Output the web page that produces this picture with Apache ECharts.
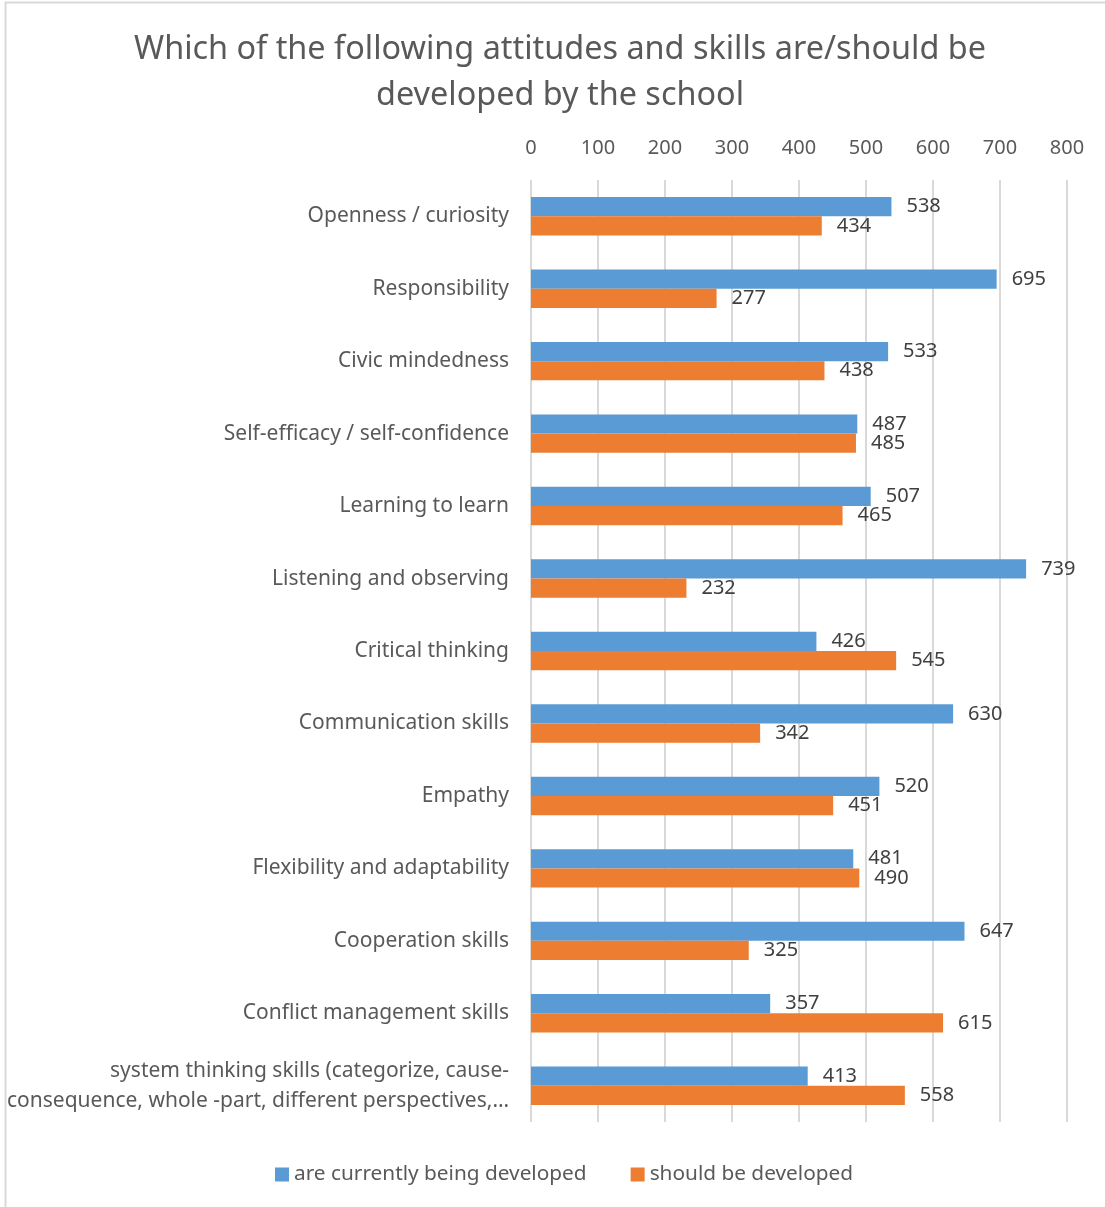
<!DOCTYPE html>
<html>
<head>
<meta charset="utf-8">
<style>
  html, body { margin: 0; padding: 0; background: #ffffff; }
  #chart { width: 1105px; height: 1207px; }
</style>
<script src="https://cdn.jsdelivr.net/npm/echarts@6/dist/echarts.min.js"></script>
</head>
<body>
<div id="chart"></div>
<script>
// Attitudes and skills, listed top to bottom
const categories = [
  'Openness / curiosity',
  'Responsibility',
  'Civic mindedness',
  'Self-efficacy / self-confidence',
  'Learning to learn',
  'Listening and observing',
  'Critical thinking',
  'Communication skills',
  'Empathy',
  'Flexibility and adaptability',
  'Cooperation skills',
  'Conflict management skills',
  'system thinking skills (categorize, cause-\nconsequence, whole -part, different perspectives,…'
];

const currentlyDeveloped = [538, 695, 533, 487, 507, 739, 426, 630, 520, 481, 647, 357, 413];
const shouldBeDeveloped  = [434, 277, 438, 485, 465, 232, 545, 342, 451, 490, 325, 615, 558];

const seriesNames = ['are currently being developed', 'should be developed'];
const axisTicks = [0, 100, 200, 300, 400, 500, 600, 700, 800];

const FONT = '"Noto Sans", "Open Sans", sans-serif';
const TEXT_GREY = '#595959';
const LABEL_GREY = '#404040';

const chart = echarts.init(document.getElementById('chart'), null, { renderer: 'canvas' });

const valueLabel = {
  show: true,
  position: 'right',
  distance: 15,
  color: LABEL_GREY,
  fontFamily: FONT,
  fontSize: 20
};

chart.setOption({
  backgroundColor: '#ffffff',
  animation: false,
  graphic: [{
    type: 'rect',
    shape: { x: 5.5, y: 2.5, width: 1200, height: 1210 },
    style: { fill: 'none', stroke: '#d9d9d9', lineWidth: 2 },
    silent: true
  }],
  title: {
    text: 'Which of the following attitudes and skills are/should be\ndeveloped by the school',
    left: 555,
    textAlign: 'center',
    top: 22,
    textStyle: {
      color: TEXT_GREY,
      fontFamily: FONT,
      fontSize: 32.4,
      fontWeight: 'normal',
      lineHeight: 46
    }
  },
  legend: {
    data: seriesNames,
    bottom: 17,
    left: 270,
    itemWidth: 14,
    itemHeight: 14,
    itemGap: 44,
    icon: 'rect',
    textStyle: { color: TEXT_GREY, fontFamily: FONT, fontSize: 20.8 }
  },
  grid: {
    left: 531,
    right: 38,
    top: 180,
    bottom: 85,
    containLabel: false
  },
  xAxis: {
    type: 'value',
    position: 'top',
    min: axisTicks[0],
    max: axisTicks[axisTicks.length - 1],
    interval: axisTicks[1] - axisTicks[0],
    axisLine: { show: false },
    axisTick: { show: false },
    axisLabel: {
      color: TEXT_GREY,
      fontFamily: FONT,
      fontSize: 20,
      margin: 22
    },
    splitLine: { show: true, lineStyle: { color: '#d9d9d9', width: 2 } }
  },
  yAxis: {
    type: 'category',
    inverse: true,
    data: categories,
    axisLine: { show: false },
    axisTick: { show: false },
    axisLabel: {
      color: TEXT_GREY,
      fontFamily: FONT,
      fontSize: 21,
      margin: 22,
      lineHeight: 30,
      align: 'right'
    }
  },
  series: [
    {
      name: seriesNames[0],
      type: 'bar',
      data: currentlyDeveloped,
      itemStyle: { color: '#5B9BD5' },
      barGap: '0%',
      barCategoryGap: '47%',
      label: valueLabel
    },
    {
      name: seriesNames[1],
      type: 'bar',
      data: shouldBeDeveloped,
      itemStyle: { color: '#ED7D31' },
      label: valueLabel
    }
  ]
});
</script>
</body>
</html>
